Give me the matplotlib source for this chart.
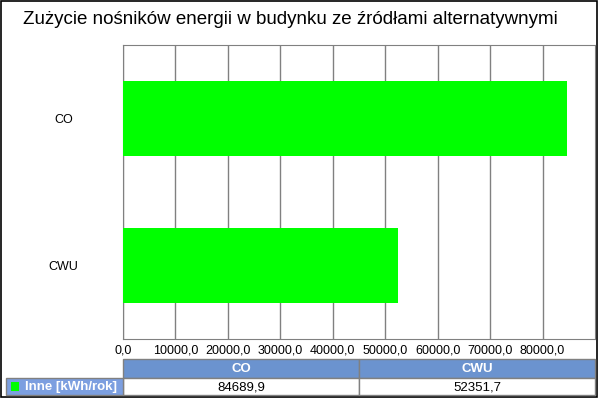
import matplotlib
matplotlib.use('Agg')
import matplotlib.pyplot as plt
from matplotlib.patches import Rectangle

plt.rcParams['font.family'] = ['Liberation Sans', 'DejaVu Sans']

# data
title = 'Zużycie nośników energii w budynku ze źródłami alternatywnymi'
categories = ['CO', 'CWU']
values = [84689.9, 52351.7]
series_name = 'Inne [kWh/rok]'
xticks = [0, 10000, 20000, 30000, 40000, 50000, 60000, 70000, 80000]

W, H = 600, 400
fig = plt.figure(figsize=(6, 4), dpi=100)
fig.patch.set_facecolor('white')

# overlay axes in pixel coordinates for frame, title and table
tab = fig.add_axes([0, 0, 1, 1], zorder=-1)
tab.set_xlim(0, W)
tab.set_ylim(H, 0)
tab.axis('off')
tab.add_patch(Rectangle((1, 1), 596, 396, fill=False,
                        edgecolor='black', linewidth=1.2))
tab.text(23, 19, title, fontsize=13.5, va='center', ha='left')

# plot area in pixels
left, right, top, bottom = 123, 595, 45, 339
ax = fig.add_axes([left / W, 1 - bottom / H, (right - left) / W, (bottom - top) / H])
ypos = list(range(len(categories)))
ax.barh(ypos, values, height=0.51, color='#00ff00', zorder=3)
ax.set_ylim(len(categories) - 0.5, -0.5)
ax.set_xlim(0, 90000)
ax.set_yticks(ypos)
ax.set_yticklabels(categories, fontsize=9, ha='center')
ax.set_xticks(xticks)
ax.set_xticklabels([f'{t:.1f}'.replace('.', ',') for t in xticks], fontsize=9)
ax.tick_params(length=0, pad=4)
ax.tick_params(axis='y', pad=43)
ax.grid(axis='x', color='#808080', linewidth=1, zorder=0)
for s in ax.spines.values():
    s.set_color('#808080')

# data table below the plot
hdr_top, row_top, row_bot = 359, 378, 395
col_edges = [123, 359, 595]
hdr_blue = '#6b93cf'
lab_blue = '#7c9fe0'
grid_c = '#808080'
for i, cat in enumerate(categories):
    x0, x1 = col_edges[i], col_edges[i + 1]
    tab.add_patch(Rectangle((x0, hdr_top), x1 - x0, row_top - hdr_top,
                            facecolor=hdr_blue, edgecolor=grid_c, linewidth=1))
    tab.text((x0 + x1) / 2, (hdr_top + row_top) / 2 + 0.5, cat, color='white',
             fontsize=9.5, fontweight='bold', ha='center', va='center')
    tab.add_patch(Rectangle((x0, row_top), x1 - x0, row_bot - row_top,
                            facecolor='white', edgecolor=grid_c, linewidth=1))
    tab.text((x0 + x1) / 2, (row_top + row_bot) / 2 + 0.5,
             f'{values[i]:.1f}'.replace('.', ','), fontsize=9.5,
             ha='center', va='center')
tab.add_patch(Rectangle((6, row_top), col_edges[0] - 6, row_bot - row_top,
                        facecolor=lab_blue, edgecolor=grid_c, linewidth=1))
tab.add_patch(Rectangle((11, row_top + 4), 8, 9, facecolor='#00ff00',
                        edgecolor='none'))
tab.text(25, (row_top + row_bot) / 2 + 0.5, series_name, color='white',
         fontsize=9.5, fontweight='bold', ha='left', va='center')

fig.savefig('out.png', dpi=100)
